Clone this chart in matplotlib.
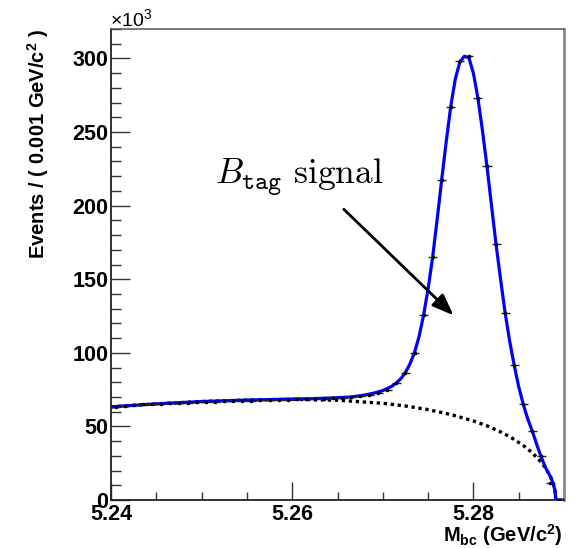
import numpy as np
import matplotlib
matplotlib.use("Agg")
import matplotlib.pyplot as plt
from matplotlib.ticker import MultipleLocator

plt.rcParams["font.family"] = ["Liberation Sans", "DejaVu Sans"]
plt.rcParams["mathtext.fontset"] = "custom"
plt.rcParams["mathtext.rm"] = "Liberation Sans"
plt.rcParams["mathtext.bf"] = "Liberation Sans:bold"
plt.rcParams["mathtext.it"] = "Liberation Sans:italic"

# Binned M_bc data (bin centres in GeV/c^2, counts in units of 10^3)
bin_centres = [5.2405 + 0.001 * i for i in range(50)]
counts = [63.0, 63.8, 64.3, 64.9, 65.0, 65.3, 65.6, 66.0, 66.1, 66.6,
          66.9, 66.8, 67.2, 67.3, 67.6, 67.5, 67.9, 68.0, 68.0, 68.2,
          68.4, 68.3, 68.6, 68.9, 69.3, 69.5, 70.2, 70.6, 71.6, 72.8,
          74.8, 79.6, 86.6, 100.2, 125.5, 165.0, 217.6, 267.3, 298.5, 301.4,
          273.0, 226.6, 173.7, 127.3, 91.6, 65.1, 46.8, 29.9, 11.7, 0.3]

# Total fit (signal + background)
fit_m = [5.2400, 5.2450, 5.2500, 5.2550, 5.2600, 5.2625, 5.2650, 5.2665,
         5.2680, 5.2690, 5.2700, 5.2710, 5.2715, 5.2720, 5.2725, 5.2730,
         5.2735, 5.2740, 5.2745, 5.2750, 5.2755, 5.2760, 5.2765, 5.2770,
         5.2775, 5.2780, 5.2785, 5.2790, 5.2795, 5.2800, 5.2805, 5.2810,
         5.2815, 5.2820, 5.2825, 5.2830, 5.2835, 5.2840, 5.2845, 5.2850,
         5.2855, 5.2860, 5.2865, 5.2870, 5.2875, 5.2880, 5.2885, 5.2888,
         5.2890, 5.2891, 5.2900]
fit_total = [63.3, 65.3, 66.9, 67.9, 68.6, 68.9, 69.5, 70.0,
             71.3, 72.6, 74.3, 77.3, 79.6, 82.5, 86.6, 92.5,
             100.2, 111.0, 125.5, 143.5, 165.0, 190.5, 217.6, 243.5,
             267.3, 286.0, 297.5, 301.5, 300.5, 290.0, 273.0, 251.0,
             226.6, 200.0, 173.7, 150.0, 127.3, 108.0, 91.6, 77.0,
             65.1, 55.0, 46.8, 37.5, 29.0, 21.5, 15.9, 11.3,
             6.6, 0.0, 0.0]

# Background component
bkg_m = [5.2400, 5.2450, 5.2500, 5.2550, 5.2600, 5.2650, 5.2700, 5.2725,
         5.2750, 5.2775, 5.2800, 5.2815, 5.2830, 5.2841, 5.2855, 5.2865,
         5.2875, 5.2880, 5.2885, 5.2888, 5.2890, 5.2891]
bkg = [63.3, 65.3, 66.9, 67.9, 68.4, 67.8, 65.7, 63.9,
       61.4, 58.1, 53.7, 50.4, 46.3, 42.7, 37.1, 32.1,
       25.6, 21.4, 15.9, 11.3, 6.6, 0.0]

fig = plt.figure(figsize=(5.80, 5.48), dpi=100)
ax = fig.add_axes([111 / 580, 48 / 548, 453 / 580, 471 / 548])

ax.plot(bkg_m, bkg, color="black", lw=2.4, linestyle=(0, (1, 1.1)), zorder=2)
ax.plot(fit_m, fit_total, color="#0000ff", lw=2.3, zorder=3)

xerr = 0.0005
yerr = np.sqrt(np.array(counts) * 1000.0) / 1000.0
ax.errorbar(bin_centres, counts, xerr=xerr, yerr=yerr, fmt="o", ms=1.6,
            color="black", ecolor="#222222", elinewidth=1.0, capsize=0,
            zorder=4)

ax.set_xlim(5.24, 5.29)
ax.set_ylim(0, 320)

ax.xaxis.set_major_locator(MultipleLocator(0.02))
ax.xaxis.set_minor_locator(MultipleLocator(0.005))
ax.yaxis.set_major_locator(MultipleLocator(50))
ax.yaxis.set_minor_locator(MultipleLocator(10))
ax.xaxis.set_major_formatter(plt.FuncFormatter(lambda v, p: f"{v:.2f}"))
ax.yaxis.set_major_formatter(plt.FuncFormatter(lambda v, p: f"{v:.0f}"))

ax.tick_params(axis="both", which="both", direction="in", top=False,
               right=False, color="#333333", width=1.0)
ax.tick_params(axis="y", which="major", length=14, pad=2, labelsize=15.5)
ax.tick_params(axis="y", which="minor", length=7)
ax.tick_params(axis="x", which="major", length=13, pad=3, labelsize=15.5)
ax.tick_params(axis="x", which="minor", length=6)
for lab in ax.get_xticklabels() + ax.get_yticklabels():
    lab.set_fontweight("bold")

for side in ("left", "bottom"):
    ax.spines[side].set_color("#222222")
    ax.spines[side].set_linewidth(1.3)
ax.spines["top"].set_color("#555555")
ax.spines["top"].set_linewidth(1.1)
ax.spines["right"].set_color("#8a8a8a")
ax.spines["right"].set_linewidth(2.0)

ax.text(-0.160, 1.0, r"Events / ( 0.001 GeV/c$^{\mathbf{2}}$ )",
        transform=ax.transAxes, rotation=90, fontsize=14.5,
        fontweight="bold", ha="center", va="top")
ax.text(0.998, -0.075, r"M$_{\mathbf{bc}}$ (GeV/c$^{\mathbf{2}}$)",
        transform=ax.transAxes, fontsize=14.5, fontweight="bold",
        ha="right", va="center")

fig.text(110 / 580, 1 - 19 / 548, r"$\times$10$^{3}$", fontsize=14,
         ha="left", va="center")

ax.text(5.2515, 215, r"$B_{\mathtt{tag}}\ \mathrm{signal}$", fontsize=25.5,
        math_fontfamily="cm", ha="left", va="baseline")
ax.annotate("", xy=(5.2778, 125.5), xytext=(5.2657, 197.5),
            arrowprops=dict(arrowstyle="-|>,head_length=1.3,head_width=0.5",
                            color="black", lw=2.0, shrinkA=0, shrinkB=0))

fig.savefig("out.png", dpi=100)
